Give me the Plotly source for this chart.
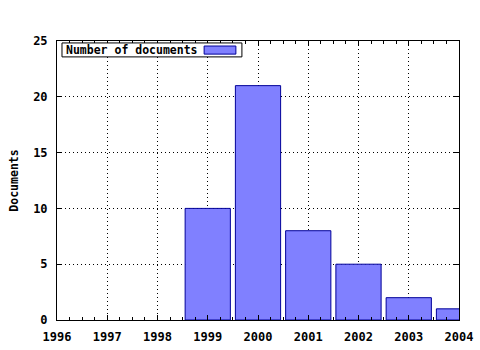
import plotly.graph_objects as go

years = [1999, 2000, 2001, 2002, 2003, 2004]
documents = [10, 21, 8, 5, 2, 1]
series_name = "Number of documents"
x_ticks = [1996, 1997, 1998, 1999, 2000, 2001, 2002, 2003, 2004]
y_ticks = [0, 5, 10, 15, 20, 25]

FONT = "DejaVu Sans Mono"
fill = "#8080ff"
edge = "#000099"

fig = go.Figure()
fig.add_trace(go.Bar(x=years, y=documents, width=0.9, name=series_name,
                     marker=dict(color=fill, line=dict(color=edge, width=1)),
                     showlegend=False))

axis_common = dict(showline=True, linecolor="black", linewidth=1, mirror="ticks",
                   showgrid=True, gridcolor="black", griddash="1px,3px", gridwidth=1,
                   zeroline=False, ticks="inside", tickcolor="black", ticklen=5,
                   ticklabelstandoff=6, automargin=False,
                   tickfont=dict(family=FONT, size=12, color="black", weight="bold"))

fig.update_layout(
    width=480, height=350,
    margin=dict(l=57, r=21, t=41, b=30),
    paper_bgcolor="white", plot_bgcolor="white",
    xaxis=dict(range=[1996, 2004], tickvals=x_ticks, ticktext=[str(v) for v in x_ticks],
               minor=dict(dtick=0.25, tick0=1996, ticks="inside", ticklen=3, tickcolor="black", showgrid=False),
               **axis_common),
    yaxis=dict(range=[0, 25], tickvals=y_ticks, title=dict(text="Documents", standoff=12,
               font=dict(family=FONT, size=11.5, color="black", weight="bold")),
               **axis_common),
    font=dict(family=FONT, color="black"),
)

# legend box (text followed by swatch)
fig.add_shape(type="rect", xref="paper", yref="paper", x0=0.0124, x1=0.46, y0=0.943, y1=0.993,
              fillcolor="white", line=dict(color="black", width=1), layer="above")
fig.add_shape(type="rect", xref="paper", yref="paper", x0=0.366, x1=0.445, y0=0.953, y1=0.982,
              fillcolor=fill, line=dict(color=edge, width=1), layer="above")
fig.add_annotation(xref="paper", yref="paper", x=0.0174, y=0.968, xanchor="left", yanchor="middle",
                   text=series_name, showarrow=False,
                   font=dict(family=FONT, size=11.5, color="black", weight="bold"))

fig.write_html("out.html")
